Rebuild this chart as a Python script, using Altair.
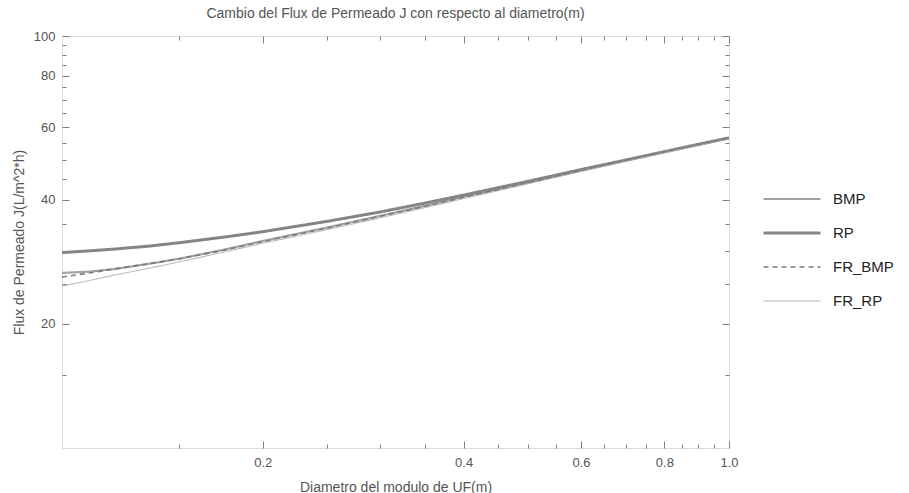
import altair as alt
import pandas as pd

# ---- data ----
diametro = [0.10, 0.11, 0.12, 0.135, 0.15, 0.175, 0.2, 0.25, 0.3, 0.35, 0.4, 0.5, 0.6, 0.7, 0.8, 0.9, 1.0]
bmp    = [26.6, 26.8, 27.2, 28.0, 28.8, 30.3, 31.8, 34.3, 36.6, 38.7, 40.7, 44.1, 47.2, 49.9, 52.3, 54.5, 56.5]
rp     = [29.8, 30.1, 30.4, 30.9, 31.5, 32.5, 33.5, 35.5, 37.4, 39.3, 41.1, 44.4, 47.4, 50.0, 52.4, 54.6, 56.6]
fr_bmp = [26.0, 26.6, 27.2, 28.0, 28.8, 30.2, 31.7, 34.2, 36.5, 38.6, 40.6, 44.0, 47.1, 49.8, 52.2, 54.4, 56.4]
fr_rp  = [24.7, 25.5, 26.3, 27.3, 28.3, 29.9, 31.4, 33.9, 36.2, 38.3, 40.3, 43.8, 46.9, 49.6, 52.0, 54.2, 56.2]

series_names = ["BMP", "RP", "FR_BMP", "FR_RP"]
series_colors = ["#a3a3a3", "#858585", "#7a7a7a", "#ababab"]
series_widths = [2.2, 3.0, 1.6, 1.0]
series_dash = [[1, 0], [1, 0], [5, 4], [1, 0]]

x_major = [0.2, 0.4, 0.6, 0.8, 1.0]
x_minor = [0.15, 0.25, 0.3, 0.35, 0.45, 0.5, 0.55, 0.65, 0.7, 0.75, 0.85, 0.9, 0.95]
y_major = [20, 40, 60, 80, 100]
y_minor = [15, 25, 30, 35, 45, 50, 55, 65, 70, 75, 85, 90, 95]

rows = []
for name, vals in zip(series_names, [bmp, rp, fr_bmp, fr_rp]):
    for d, v in zip(diametro, vals):
        rows.append({"diametro": d, "flux": v, "serie": name})
df = pd.DataFrame(rows)

W, H = 667, 412
FONT = "Liberation Sans"
AX = "#808080"

xs = alt.Scale(type="log", domain=[0.1, 1.0], nice=False)
ys = alt.Scale(type="log", domain=[10, 100], nice=False)

base = alt.Chart(df)

main = base.mark_line(clip=True).encode(
    x=alt.X("diametro:Q", scale=xs, axis=alt.Axis(
        orient="bottom", values=x_major, format=".1f", ticks=False, domain=False, grid=False,
        labelPadding=8, labelFontSize=13, labelColor="#555555", labelFont=FONT,
        labelFlush=False, labelOverlap=False,
        title="Diametro del modulo de UF(m)", titleFontSize=14, titleFont=FONT,
        titleColor="#555555", titleFontWeight="normal", titleBaseline="top", titleY=32)),
    y=alt.Y("flux:Q", scale=ys, axis=alt.Axis(
        orient="left", values=y_major, ticks=False, domain=False, grid=False,
        labelPadding=7, labelFontSize=13, labelColor="#555555", labelFont=FONT,
        labelOverlap=False, labelFlush=False,
        title="Flux de Permeado J(L/m^2*h)", titleFontSize=14, titleFont=FONT,
        titleColor="#555555", titleFontWeight="normal", titleX=-43, titleY=H / 2,
        titleAngle=270, titleAlign="center", titleBaseline="middle")),
    color=alt.Color("serie:N", scale=alt.Scale(domain=series_names, range=series_colors),
                    legend=alt.Legend(title=None, orient="none", legendX=700, legendY=146,
                                      symbolType="stroke", symbolSize=3249, labelFontSize=15,
                                      labelFont=FONT, labelColor="#222222", labelOffset=11,
                                      clipHeight=34, rowPadding=0, padding=0)),
    strokeWidth=alt.StrokeWidth("serie:N", scale=alt.Scale(type="ordinal", domain=series_names, range=series_widths), legend=None),
    strokeDash=alt.StrokeDash("serie:N", scale=alt.Scale(domain=series_names, range=series_dash), legend=None),
    detail="serie:N",
)


def tick_layer(xorient, yorient, xvals, yvals, size):
    return base.mark_point(opacity=0).encode(
        x=alt.X("diametro:Q", scale=xs, axis=alt.Axis(
            orient=xorient, offset=-H, values=xvals, labels=False, domain=False, grid=False,
            tickSize=size, tickColor=AX, tickWidth=1, title=None)),
        y=alt.Y("flux:Q", scale=ys, axis=alt.Axis(
            orient=yorient, offset=-W, values=yvals, labels=False, domain=False, grid=False,
            tickSize=size, tickColor=AX, tickWidth=1, title=None)),
    )


layers = [
    tick_layer("top", "right", x_major, y_major, 7),
    tick_layer("top", "right", x_minor, y_minor, 4),
    tick_layer("bottom", "left", x_major, y_major, 7),
    tick_layer("bottom", "left", x_minor, y_minor, 4),
    main,
]

chart = alt.layer(*layers).resolve_axis(x="independent", y="independent").properties(
    width=W, height=H,
    autosize=alt.AutoSizeParams(type="none"),
    padding={"left": 62, "top": 36, "right": 909 - 62 - W, "bottom": 493 - 36 - H},
    title=alt.Title("Cambio del Flux de Permeado J con respecto al diametro(m)", fontSize=14,
                    font=FONT, color="#555555", fontWeight="normal", anchor="middle", offset=9),
).configure_view(stroke=AX, strokeWidth=1).configure(background="white")

chart.save("out.html", embed_options={"renderer": "svg", "actions": False})
